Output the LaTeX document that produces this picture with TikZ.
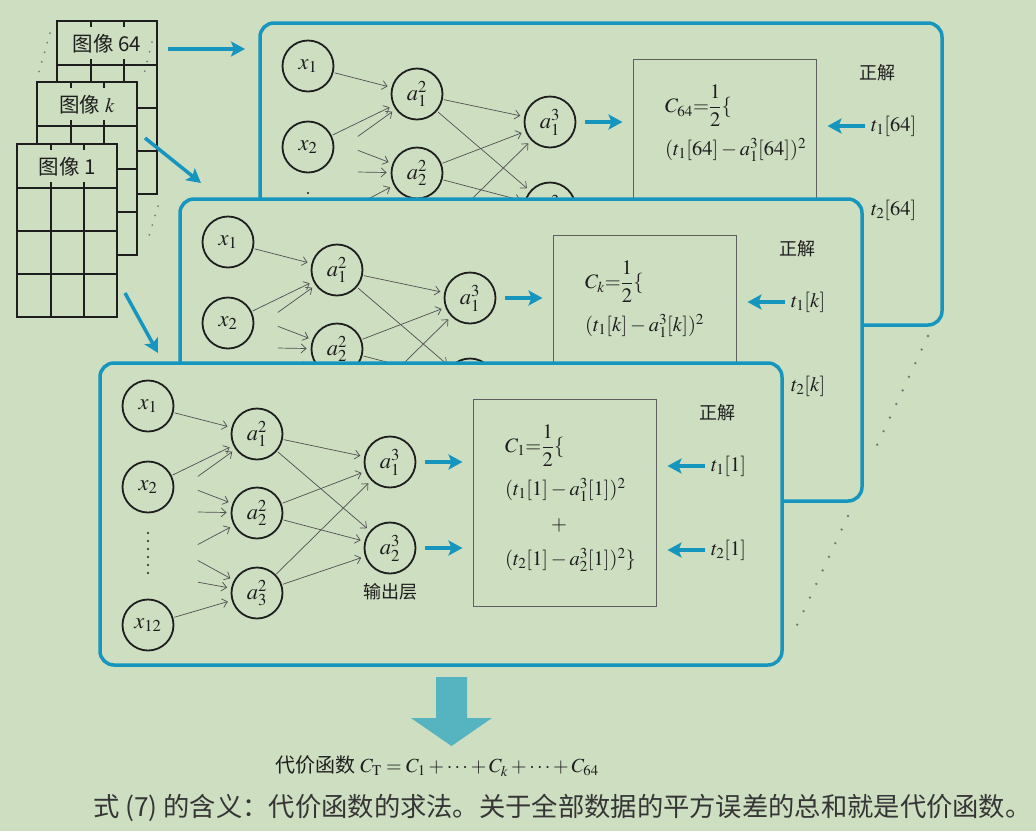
\documentclass[tikz,border=0pt]{standalone}
\usepackage{mathptmx}
\usepackage{fontspec}
\setmainfont{Liberation Serif}
\newfontfamily\cjk{Noto Sans CJK SC}
\usetikzlibrary{arrows.meta}
\definecolor{bg}{RGB}{206,222,193}
\definecolor{pblue}{RGB}{22,150,190}
\definecolor{barrow}{RGB}{86,180,192}
\definecolor{conncol}{RGB}{80,80,80}
\definecolor{boxcol}{RGB}{95,95,95}
\definecolor{dotcol}{RGB}{120,120,120}
\definecolor{ink}{RGB}{30,30,30}
\tikzset{
  neuron/.style={circle, draw=ink, line width=1.8pt, minimum size=51pt, inner sep=0pt, text=ink, font=\fontsize{22.5}{24}\selectfont},
  conn/.style={draw=conncol, line width=0.7pt, -{Straight Barb[length=5pt,width=9pt]}, shorten >=4pt, shorten <=1pt},
  bluearrow/.style={draw=pblue, line width=3.5pt, -{Stealth[length=14pt,width=15pt,inset=3pt]}},
  panelbox/.style={draw=pblue, line width=3.5pt, rounded corners=14pt, fill=bg, inner sep=0pt, outer sep=0pt, anchor=north west, minimum width=682pt, minimum height=302pt},
  formbox/.style={draw=boxcol, line width=1pt, inner sep=0pt, minimum width=183pt, minimum height=207pt},
  ftext/.style={font=\fontsize{20.5}{22}\selectfont, text=ink, inner sep=0pt, anchor=west},
  cjklabel/.style={font=\cjk\fontsize{18}{20}\selectfont, text=ink, inner sep=0pt},
  card/.style={draw=ink, line width=1.6pt, fill=bg, minimum width=100pt, minimum height=173pt, inner sep=0pt, outer sep=0pt, anchor=north west},
  cardline/.style={draw=ink, line width=1.6pt},
  sdots/.style={draw=dotcol, line width=2pt, line cap=round, dash pattern=on 0pt off 10pt},
  bigdots/.style={draw=dotcol, line width=2.6pt, line cap=round, dash pattern=on 0pt off 15pt},
}
% one card of the image stack
\newcommand\imgcard[4]{%
  \begin{scope}[shift={(#2,#3)}]
    \node[card] (#1) at (0,0) {};
    \draw[cardline] (0,44) -- (100,44) (0,87) -- (100,87) (0,130) -- (100,130);
    \draw[cardline] (34,44) -- (34,173) (67,44) -- (67,173);
    \draw[cardline] (34,0) -- (34,6) (67,0) -- (67,6) (34,38) -- (34,44) (67,38) -- (67,44);
    \node[font=\cjk\fontsize{20.5}{22}\selectfont, text=ink, inner sep=0pt] (#1lab) at (50,23) {#4};
  \end{scope}}
% common content of a panel: #1 prefix, #2 label of a^2_3, #3 C subscript, #4 index
\newcommand\netcore[4]{%
  \node[neuron] (#1x1) at (148,406) {$x_1$};
  \node[neuron] (#1x2) at (148,487) {$x_2$};
  \node[neuron] (#1a21) at (257,434) {$a^2_1$};
  \node[neuron] (#1a22) at (257,513) {$a^2_2$};
  \node[neuron] (#1a23) at (257,593) {#2};
  \node[neuron] (#1a31) at (390,462) {$a^3_1$};
  \node[neuron] (#1a32) at (390,548) {$a^3_2$};
  \foreach \yy in {533,541,...,573} \fill[ink] (148,\yy) circle[radius=1.2pt];
  \coordinate (#1s1) at (197,477);
  \coordinate (#1s2) at (197,490);
  \coordinate (#1s3) at (197,512);
  \coordinate (#1s4) at (197,545);
  \coordinate (#1s5) at (197,560);
  \coordinate (#1s6) at (197,582);
  \draw[conn] (#1x1) -- (#1a21);
  \draw[conn] (#1x2) -- (#1a21);
  \draw[conn] (#1s1) -- (#1a21);
  \draw[conn] (#1s2) -- (#1a22);
  \draw[conn] (#1s3) -- (#1a22);
  \draw[conn] (#1s4) -- (#1a22);
  \draw[conn] (#1s5) -- (#1a23);
  \draw[conn] (#1s6) -- (#1a23);
  \foreach \h in {a21,a22,a23} \foreach \o in {a31,a32} \draw[conn] (#1\h) -- (#1\o);
  \node[formbox] (#1box) at (564.5,502.5) {};
  \node[ftext] (#1f1) at (505,446) {$C_{#3}{=}{\displaystyle\frac{1}{2}}\{$};
  \node[ftext] (#1f2) at (505,490) {$(t_1[#4]-a^3_1[#4])^2$};
  \node[cjklabel] (#1zj) at (717,413) {正解};
  \node[ftext] (#1t1) at (711,466) {$t_1[#4]$};
  \node[ftext] (#1t2) at (711,550) {$t_2[#4]$};
  \draw[bluearrow] ([xshift=9pt]#1a31.east) -- ([xshift=-10pt]#1box.west |- #1a31);
  \draw[bluearrow] ([xshift=9pt]#1a32.east) -- ([xshift=-10pt]#1box.west |- #1a32);
  \draw[bluearrow] ([xshift=-6pt]#1t1.west) -- ([xshift=11pt]#1box.east |- #1t1);
}
\begin{document}
\begin{tikzpicture}[x=1pt,y=-1pt]
\useasboundingbox (0,0) rectangle (1036,831);
\fill[bg] (0,0) rectangle (1036,831);

% image stack
\imgcard{c64}{57}{21}{图像 64}
\imgcard{ck}{37}{82}{图像 $k$}
\imgcard{c1}{17}{144}{图像 1}
\draw[sdots] (50,33) -- (39,72);
\draw[sdots] (152,42) -- (143,78);
\draw[sdots] (158,206) -- (147,243);

% arrows from the images to the panels
\coordinate (ar1s) at (168,49);  \coordinate (ar1e) at (245,49);
\coordinate (ar2s) at (145,138); \coordinate (ar2e) at (201,183);
\coordinate (ar3s) at (125,293); \coordinate (ar3e) at (158,353);
\draw[bluearrow] (ar1s) -- (ar1e);
\draw[bluearrow] (ar2s) -- (ar2e);
\draw[bluearrow] (ar3s) -- (ar3e);

% dotted lines between panel corners
\draw[bigdots] (928,336) -- (871,458);
\draw[bigdots] (848,516) -- (791,638);

% back panel (image 64)
\begin{scope}[shift={(160,-340)}]
  \node[panelbox] (Bpanel) at (100,363) {};
  \netcore{B}{}{64}{64}
\end{scope}

% middle panel (image k)
\begin{scope}[shift={(80,-164)}]
  \node[panelbox] (Mpanel) at (100,363) {};
  \netcore{M}{}{k}{k}
\end{scope}

% front panel (image 1)
\node[panelbox] (Fpanel) at (100,363) {};
\netcore{F}{$a^2_3$}{1}{1}
\node[neuron] (Fx12) at (148,625) {$x_{12}$};
\draw[conn] (Fx12) -- (Fa23);
\node[cjklabel] (Fout) at (390,592) {输出层};
\node[font=\fontsize{20.5}{22}\selectfont, text=ink, inner sep=0pt] (Fplus) at (559,525) {$+$};
\node[ftext] (Ff4) at (505,560) {$(t_2[1]-a^3_2[1])^2\}$};
\draw[bluearrow] ([xshift=-6pt]Ft2.west) -- ([xshift=11pt]Fbox.east |- Ft2);

% big arrow down
\fill[barrow] (436,677) -- (467,677) -- (467,718) -- (492,718) -- (451.5,746) -- (411,718) -- (436,718) -- cycle;

% total cost
\node[font=\fontsize{20}{22}\selectfont, text=ink, inner sep=0pt] (total) at (437,766)
  {{\cjk 代价函数} $C_{\mathrm{T}} = C_1 + \cdots + C_k + \cdots + C_{64}$};
\node[font=\cjk\fontsize{26.3}{28}\selectfont, text=ink!90, anchor=west, inner sep=0pt] (cap) at (93,808)
  {式 (7) 的含义：代价函数的求法。关于全部数据的平方误差的总和就是代价函数。};
\end{tikzpicture}
\end{document}
